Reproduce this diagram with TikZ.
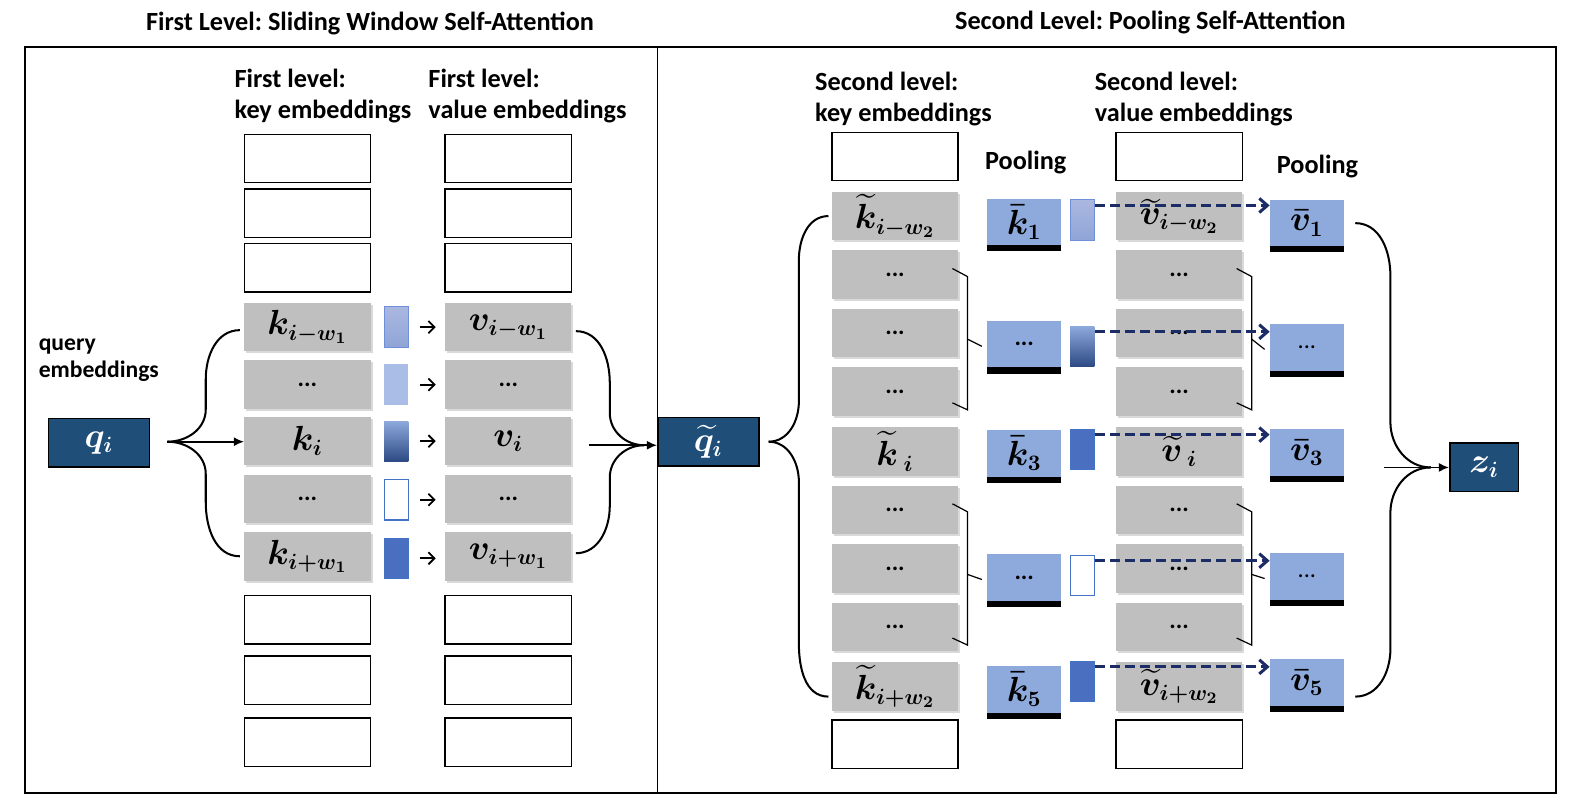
\documentclass[tikz,border=0pt]{standalone}
\usepackage[no-math]{fontspec}
\setmainfont{Carlito}
\usepackage{amsmath,bm}
\usetikzlibrary{positioning,arrows.meta,calc,shadows}
\definecolor{embgray}{HTML}{BFBFBF}
\definecolor{qblue}{HTML}{1F4E79}
\definecolor{poolblue}{HTML}{8EA9DB}
\definecolor{barlt}{HTML}{AAB8E0}
\definecolor{barmd}{HTML}{8FA4D6}
\definecolor{barln}{HTML}{6F8FD8}
\definecolor{barflat}{HTML}{A9BDE6}
\definecolor{bardk}{HTML}{2D4A85}
\definecolor{barblue}{HTML}{4A6FC0}
\definecolor{baredge}{HTML}{4472C4}
\definecolor{navy}{HTML}{1C2C66}
\newcommand{\kt}{\widetilde{k}}
\newcommand{\vt}{\widetilde{v}}
\frenchspacing

\begin{document}
\begin{tikzpicture}[
  x=0.5pt, y=-0.5pt,
  box/.style={draw, line width=0.75pt, minimum width=62.5pt, minimum height=24pt, inner sep=0pt},
  emb/.style={fill=embgray, minimum width=62.5pt, minimum height=24pt, inner sep=0pt,
    drop shadow={opacity=0.3, shadow xshift=1pt, shadow yshift=-1pt}, font=\fontsize{16}{18}\selectfont},
  embdots/.style={emb, font=\bfseries\fontsize{12}{14}\selectfont},
  qbox/.style={draw, line width=0.8pt, fill=qblue, text=white, minimum width=50pt, minimum height=24pt,
    inner sep=0pt, font=\fontsize{16}{18}\selectfont},
  pool/.style={fill=poolblue, minimum width=36.5pt, minimum height=23pt, inner sep=0pt,
    drop shadow={fill=black, opacity=1, shadow xshift=0pt, shadow yshift=-3pt}, font=\fontsize{16}{18}\selectfont},
  wbar/.style={minimum width=12pt, minimum height=20pt, inner sep=0pt},
  lightbar/.style={wbar, top color=barlt, bottom color=barmd, draw=barln, line width=0.5pt},
  flatbar/.style={wbar, fill=barflat},
  darkbar/.style={wbar, top color=poolblue, bottom color=bardk},
  whitebar/.style={wbar, fill=white, draw=baredge, line width=0.6pt},
  solidbar/.style={wbar, fill=barblue, draw=baredge, line width=0.5pt},
  head/.style={font=\bfseries\fontsize{13}{15.5}\selectfont, align=left, anchor=west, inner sep=0pt},
  ttl/.style={font=\bfseries\fontsize{13}{15}\selectfont},
  arr/.style={-{Latex[length=5pt,width=4.5pt]}, line width=0.8pt},
  sarr/.style={-{Straight Barb[length=3pt,width=6pt]}, line width=0.9pt, shorten <=5.5pt, shorten >=4.5pt},
  dasharr/.style={-{Straight Barb[length=4pt,width=7pt]}, navy, line width=1.5pt, dash pattern=on 5pt off 2.5pt},
  brace/.style={line width=1pt},
  brk/.style={line width=0.6pt}
]
\useasboundingbox (0,0) rectangle (1568,799);
\draw[line width=1pt] (25,47) rectangle (1541,785);
\draw[line width=0.5pt] (651,47) -- (651,785);

\node[ttl] (t1) at (366.5,23) {First Level: Sliding Window Self-Attention};
\node[ttl] (t2) at (1139.5,22) {Second Level: Pooling Self-Attention};

\node[head] (h1) at (232,95) {First level:\\key embeddings};
\node[head] (h2) at (424,95) {First level:\\value embeddings};
\node[head, font=\bfseries\fontsize{11.7}{13.5}\selectfont] (hq) at (38,357) {query\\embeddings};

\foreach \y [count=\n] in {157,211,265,614,674,735} {
  \node[box] (ke\n) at (304.5,\y) {};
  \node[box] (ve\n) at (503.5,\y) {};
}
\node[emb] (ka1) at (304.5,324) {$\bm{k_{i-w_1}}$};
\node[embdots] (ka2) at (304.5,381) {...};
\node[emb] (ka3) at (304.5,437) {$\bm{k_i}$};
\node[embdots] (ka4) at (304.5,494) {...};
\node[emb] (ka5) at (304.5,551) {$\bm{k_{i+w_1}}$};
\node[emb] (va1) at (503.5,324) {$\bm{v_{i-w_1}}$};
\node[embdots] (va2) at (503.5,381) {...};
\node[emb] (va3) at (503.5,437) {$\bm{v_i}$};
\node[embdots] (va4) at (503.5,494) {...};
\node[emb] (va5) at (503.5,551) {$\bm{v_{i+w_1}}$};

\node[lightbar] (lb1) at (392.5,324) {};
\node[flatbar] (lb2) at (392.5,381) {};
\node[darkbar] (lb3) at (392.5,437) {};
\node[whitebar] (lb4) at (392.5,495) {};
\node[solidbar] (lb5) at (392.5,553) {};
\foreach \n in {1,...,5} \draw[sarr] (lb\n.east) -- (lb\n.east -| va\n.west);

\node[qbox] (qi) at (98,438.5) {$\bm{q_i}$};
\coordinate (qtip) at ($(qi.east)+(17,-1)$);
\draw[brace] ($(ka1.west)+(-4,3)$) to[out=180,in=90] ($(qtip)+(38,-62)$) -- ($(qtip)+(38,-32)$) to[out=-90,in=0] (qtip);
\draw[brace] ($(ka5.west)+(-4,0)$) to[out=180,in=-90] ($(qtip)+(38,60)$) -- ($(qtip)+(38,32)$) to[out=90,in=0] (qtip);
\draw[arr] (qtip) -- (qtip -| ka3.west);

\node[qbox] (qt) at (701.5,437.5) {$\bm{\widetilde{q}_i}$};
\coordinate (vtip) at (638,441);
\draw[brace] ($(va1.east)+(4,4)$) to[out=0,in=90] ($(vtip)+(-34,-62)$) -- ($(vtip)+(-34,-32)$) to[out=-90,in=180] (vtip);
\draw[brace] ($(va5.east)+(4,-3)$) to[out=0,in=-90] ($(vtip)+(-34,60)$) -- ($(vtip)+(-34,32)$) to[out=90,in=180] (vtip);
\draw[arr] ($(vtip)+(-55,0)$) -- (vtip -| qt.west);

\node[head] (h3) at (807,98) {Second level:\\key embeddings};
\node[head] (h4) at (1084,98) {Second level:\\value embeddings};
\node[head, anchor=center] (p1) at (1016,161) {Pooling};
\node[head, anchor=center] (p2) at (1305,165) {Pooling};

\node[box] (kk0) at (886.5,155) {};
\node[box] (kk10) at (886.5,737) {};
\node[box] (vv0) at (1168,155) {};
\node[box] (vv10) at (1168,737) {};
\foreach \y [count=\n] in {272,330,388} {
  \pgfmathtruncatemacro{\m}{\n+1}
  \node[embdots] (kk\m) at (886.5,\y) {...};
  \node[embdots] (vv\m) at (1168,\y) {...};
}
\foreach \y [count=\n] in {505,563,621} {
  \pgfmathtruncatemacro{\m}{\n+5}
  \node[embdots] (kk\m) at (886.5,\y) {...};
  \node[embdots] (vv\m) at (1168,\y) {...};
}
\node[emb] (kk1) at (886.5,214) {$\bm{\kt_{i-w_2}}$};
\node[emb] (kk5) at (886.5,447) {$\bm{\kt}_{\;\bm{i}}$};
\node[emb] (kk9) at (886.5,680) {$\bm{\kt_{i+w_2}}$};
\node[emb] (vv1) at (1168,214) {$\bm{\vt_{i-w_2}}$};
\node[emb] (vv5) at (1168,447) {$\bm{\vt}_{\;\bm{i}}$};
\node[emb] (vv9) at (1168,680) {$\bm{\vt_{i+w_2}}$};

\node[pool] (kp1) at (1014.5,220) {$\bm{\bar{k}_1}$};
\node[pool, font=\bfseries\fontsize{12}{14}\selectfont] (kp2) at (1014.5,341) {...};
\node[pool] (kp3) at (1014.5,449) {$\bm{\bar{k}_3}$};
\node[pool, font=\bfseries\fontsize{12}{14}\selectfont] (kp4) at (1014.5,572) {...};
\node[pool] (kp5) at (1014.5,683) {$\bm{\bar{k}_5}$};

\node[lightbar] (rb1) at (1072,218) {};
\node[darkbar] (rb2) at (1072,343) {};
\node[solidbar] (rb3) at (1072,445) {};
\node[whitebar] (rb4) at (1072,570) {};
\node[solidbar] (rb5) at (1072,675) {};

\node[pool] (vp1) at (1294.5,221) {$\bm{\bar{v}_1}$};
\node[pool, font=\fontsize{12}{14}\selectfont] (vp2) at (1294.5,344) {...};
\node[pool] (vp3) at (1294.5,448) {$\bm{\bar{v}_3}$};
\node[pool, font=\fontsize{12}{14}\selectfont] (vp4) at (1294.5,571) {...};
\node[pool] (vp5) at (1294.5,676) {$\bm{\bar{v}_5}$};

\foreach \a/\b/\p in {kk2/kk4/kp2, kk6/kk8/kp4, vv2/vv4/vp2, vv6/vv8/vp4} {
  \draw[brk] ($(\a.east)+(-6,-6)$) -- ($(\a.east)+(9,2)$) -- ($(\b.east)+(9,18)$) -- ($(\b.east)+(-6,11)$);
  \draw[brk] ($($(\a.east)!0.5!(\b.east)$)+(9,6)$) -- ($(\p.west)+(-5,2)$);
}

\foreach \n in {1,...,5} {
  \coordinate (d\n) at ($(rb\n.north east)+(0,6)$);
  \draw[dasharr] (d\n) -- (d\n -| vp\n.west);
}

\coordinate (ktip) at ($(qt.east)+(9,0)$);
\draw[brace] ($(kk1.west)+(-3,0)$) to[out=180,in=90] ($(ktip)+(30,-180)$) -- ($(ktip)+(30,-40)$) to[out=-90,in=0] (ktip);
\draw[brace] ($(kk9.west)+(-3,10)$) to[out=180,in=-90] ($(ktip)+(30,200)$) -- ($(ktip)+(30,40)$) to[out=90,in=0] (ktip);

\node[qbox, minimum width=34pt] (zi) at (1470,463) {$\bm{z_i}$};
\coordinate (ztip) at ($(zi.west)+(-18,0)$);
\draw[brace] ($(vp1.east)+(11,0)$) to[out=0,in=90] ($(ztip)+(-40,-190)$) -- ($(ztip)+(-40,-45)$) to[out=-90,in=180] (ztip);
\draw[brace] ($(vp5.east)+(11,14)$) to[out=0,in=-90] ($(ztip)+(-40,180)$) -- ($(ztip)+(-40,45)$) to[out=90,in=180] (ztip);
\draw[arr] ($(ztip)+(-46,0)$) -- (zi.west);
\end{tikzpicture}
\end{document}
